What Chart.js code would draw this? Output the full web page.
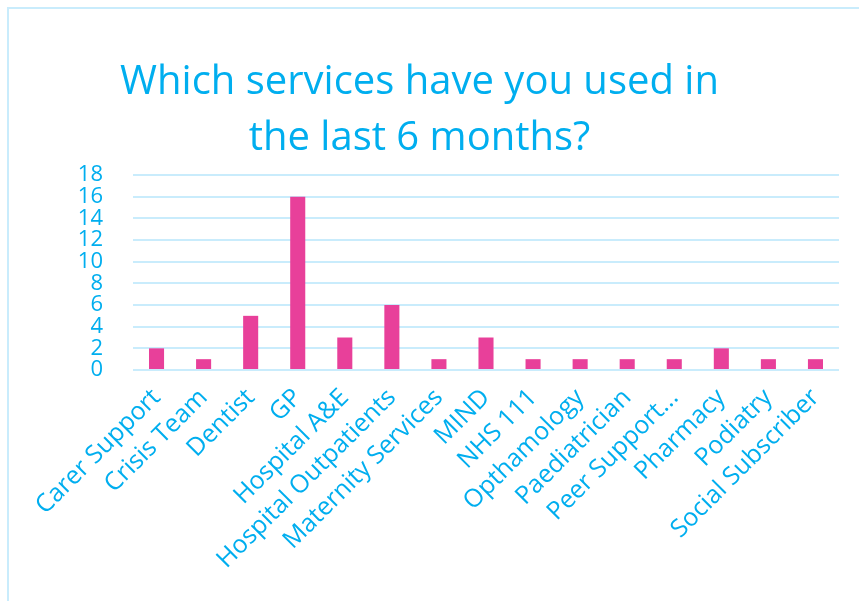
<!DOCTYPE html>
<html>
<head>
<meta charset="utf-8">
<script src="https://cdn.jsdelivr.net/npm/chart.js@4"></script>
<style>
html,body{margin:0;padding:0;background:#fff;overflow:hidden}
#wrap{position:relative;width:859px;height:601px}
#frame{position:absolute;left:7px;top:7px;width:900px;height:700px;border:2px solid #c9ecfc}
canvas{position:absolute;left:0;top:0}
</style>
</head>
<body>
<div id="wrap">
<div id="frame"></div>
<canvas id="c" width="859" height="601"></canvas>
</div>
<script>
const services=["Carer Support","Crisis Team","Dentist","GP","Hospital A&E","Hospital Outpatients","Maternity Services","MIND","NHS 111","Opthamology","Paediatrician","Peer Support...","Pharmacy","Podiatry","Social Subscriber"]
const counts=[2,1,5,16,3,6,1,3,1,1,1,1,2,1,1]
const titleLines=["Which services have you used in","the last 6 months?"]

const blue="#00aeef"
const font="'Open Sans', 'Noto Sans', sans-serif"

new Chart(document.getElementById("c"),{
type:"bar",
data:{labels:services,datasets:[{data:counts,backgroundColor:"#e8409a",barPercentage:0.32,categoryPercentage:1}]},
options:{
responsive:false,
animation:false,
layout:{padding:{left:0,right:20,top:0,bottom:0}},
plugins:{
legend:{display:false},
tooltip:{enabled:false},
title:{display:true,text:titleLines,color:blue,font:{family:font,size:40,weight:"normal",lineHeight:1.4},padding:{top:55,bottom:8}}
},
scales:{
x:{
grid:{display:false},
border:{display:false},
ticks:{color:blue,font:{family:font,size:25},minRotation:45,maxRotation:45,autoSkip:false,padding:5},
afterFit:s=>{s.height=231}
},
y:{
min:0,max:18,
grid:{color:"#c9ecfc",lineWidth:2,drawTicks:false},
border:{display:false},
ticks:{stepSize:2,autoSkip:false,color:blue,font:{family:font,size:22,lineHeight:1},padding:30},
afterFit:s=>{s.width=133}
}
}
}
})
</script>
</body>
</html>
